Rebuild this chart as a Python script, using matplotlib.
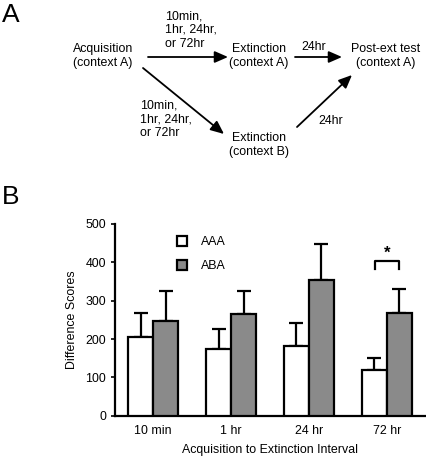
import numpy as np
import matplotlib
matplotlib.use("Agg")
import matplotlib.pyplot as plt

plt.rcParams['font.family'] = ['Liberation Sans', 'DejaVu Sans']

# data
intervals = ['10 min', '1 hr', '24 hr', '72 hr']
aaa_mean = [205, 174, 182, 119]
aaa_sem = [62, 51, 61, 31]
aba_mean = [248, 265, 355, 269]
aba_sem = [78, 61, 93, 62]
yticks = [0, 100, 200, 300, 400, 500]

W, H = 426, 458
fig = plt.figure(figsize=(W / 100, H / 100), dpi=100)

# panel A: flow diagram drawn in pixel coordinates
ov = fig.add_axes([0, 0, 1, 1])
ov.set_xlim(0, W)
ov.set_ylim(H, 0)
ov.axis('off')

fs = 8.9
ls = 1.2
ov.text(2, 15, 'A', fontsize=19, va='center', ha='left')
ov.text(2, 197, 'B', fontsize=19, va='center', ha='left')

ov.text(103, 56, 'Acquisition\n(context A)', fontsize=fs, ha='center', va='center', linespacing=ls)
ov.text(259, 56, 'Extinction\n(context A)', fontsize=fs, ha='center', va='center', linespacing=ls)
ov.text(386, 56, 'Post-ext test\n(context A)', fontsize=fs, ha='center', va='center', linespacing=ls)
ov.text(259, 145, 'Extinction\n(context B)', fontsize=fs, ha='center', va='center', linespacing=ls)
ov.text(165, 30, '10min,\n1hr, 24hr,\nor 72hr', fontsize=fs, ha='left', va='center', linespacing=ls)
ov.text(140, 119, '10min,\n1hr, 24hr,\nor 72hr', fontsize=fs, ha='left', va='center', linespacing=ls)
ov.text(301, 47, '24hr', fontsize=fs, ha='left', va='center')
ov.text(318, 121, '24hr', fontsize=fs, ha='left', va='center')

arrow = dict(arrowstyle='-|>,head_length=0.8,head_width=0.35', color='black', lw=1.3,
             shrinkA=0, shrinkB=0)
ov.annotate('', xy=(228, 57), xytext=(148, 57), arrowprops=arrow)
ov.annotate('', xy=(342, 57), xytext=(295, 57), arrowprops=arrow)
ov.annotate('', xy=(224, 134), xytext=(143, 68), arrowprops=arrow)
ov.annotate('', xy=(352, 75), xytext=(297, 127), arrowprops=arrow)

# panel B: bar chart
left, right, bottom_px, top_px = 115, 425, 415.7, 224
ax = fig.add_axes([left / W, 1 - bottom_px / H, (right - left) / W, (bottom_px - top_px) / H])

x = np.arange(len(intervals))
bw = 0.32
ax.bar(x - bw / 2, aaa_mean, bw, color='white', edgecolor='black', linewidth=1.6, label='AAA', zorder=3)
ax.bar(x + bw / 2, aba_mean, bw, color='#8a8a8a', edgecolor='black', linewidth=1.6, label='ABA', zorder=3)
ax.errorbar(x - bw / 2, aaa_mean, yerr=[np.zeros(4), aaa_sem], fmt='none', ecolor='black',
            elinewidth=1.6, capsize=5, capthick=1.6, zorder=2)
ax.errorbar(x + bw / 2, aba_mean, yerr=[np.zeros(4), aba_sem], fmt='none', ecolor='black',
            elinewidth=1.6, capsize=5, capthick=1.6, zorder=2)

# significance bracket at 72 hr
bx0, bx1 = x[3] - 0.15, x[3] + 0.15
ax.plot([bx0, bx0, bx1, bx1], [383, 404, 404, 383], color='black', lw=1.6, clip_on=False)
ax.text(x[3], 404, '*', ha='center', va='bottom', fontsize=12, fontweight='bold')

ax.set_xlim(-0.49, 3.49)
ax.set_ylim(0, 500)
ax.set_yticks(yticks)
ax.set_xticks(x)
ax.set_xticklabels(intervals, fontsize=fs)
ax.tick_params(axis='y', labelsize=fs, length=3, width=1.2)
ax.tick_params(axis='x', length=0, pad=7)
for s in ['top', 'right']:
    ax.spines[s].set_visible(False)
for s in ['left', 'bottom']:
    ax.spines[s].set_linewidth(1.6)
ax.set_ylabel('Difference Scores', fontsize=fs, labelpad=5)
ax.set_xlabel('Acquisition to Extinction Interval', fontsize=fs, labelpad=5)

ax.legend(loc='upper left', bbox_to_anchor=(0.165, 0.995), frameon=False, fontsize=fs,
          handlelength=0.8, handleheight=0.8, labelspacing=1.0, handletextpad=1.1)

fig.savefig('out.png', dpi=100)
